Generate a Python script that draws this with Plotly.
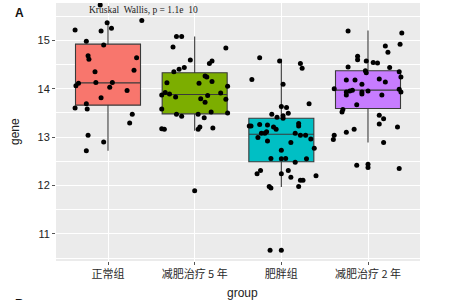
import plotly.graph_objects as go

categories = ["正常组", "减肥治疗 5 年", "肥胖组", "减肥治疗 2 年"]
colors = ["#F8766D", "#7CAE00", "#00BFC4", "#C77CFF"]

# box statistics: q1, median, q3, lower whisker, upper whisker
q1 = [13.66, 13.48, 12.49, 13.59]
median = [14.12, 13.88, 13.06, 13.97]
q3 = [14.92, 14.33, 13.39, 14.37]
lower_whisker = [12.72, 13.13, 11.97, 12.89]
upper_whisker = [15.36, 15.08, 14.62, 15.20]

# individual points (value, horizontal jitter in category units)
values_0 = [15.73, 15.36, 15.25, 15.21, 15.19, 15.41, 14.98, 14.90, 14.68, 14.61,
            14.64, 14.35, 14.38, 14.06, 14.11, 14.13, 14.13, 14.03, 13.96, 13.81,
            13.69, 13.60, 13.58, 13.47, 13.29, 13.04, 12.90, 12.72]
jitter_0 = [-0.09, -0.01, 0.04, -0.38, -0.08, 0.39, -0.25, -0.05, -0.23, -0.22,
            0.33, -0.15, 0.30, -0.37, -0.34, -0.14, 0.05, 0.02, 0.22, -0.08,
            -0.25, -0.38, -0.24, 0.28, 0.25, -0.23, -0.05, -0.25]

values_1 = [15.08, 15.08, 14.86, 14.84, 14.59, 14.52, 14.57, 14.44, 14.40, 14.35,
            14.26, 14.24, 14.11, 14.12, 14.15, 14.05, 13.92, 13.89, 13.83, 13.87,
            13.91, 13.86, 13.79, 13.72, 13.78, 13.58, 13.47, 13.43, 13.47, 13.52,
            13.50, 13.40, 13.21, 13.16, 13.19, 13.17, 13.16, 11.89]
jitter_1 = [-0.21, -0.15, -0.25, 0.36, -0.05, 0.17, 0.20, -0.12, -0.18, -0.24,
            0.12, 0.14, 0.05, -0.32, 0.20, 0.38, -0.34, -0.29, -0.22, -0.38,
            0.30, 0.15, 0.07, 0.12, 0.36, -0.38, -0.21, -0.15, 0.04, 0.19,
            0.38, 0.11, 0.06, 0.04, 0.21, -0.38, -0.35, 0.00]

values_2 = [14.64, 14.57, 14.52, 14.42, 14.19, 14.09, 13.69, 13.63, 13.61, 13.47,
            13.41, 13.44, 13.39, 13.49, 13.23, 13.23, 13.26, 13.25, 13.21, 13.16,
            13.28, 13.23, 13.11, 13.08, 13.08, 12.99, 13.08, 13.04, 13.04, 12.96,
            12.92, 12.89, 12.77, 12.73, 12.56, 12.55, 12.56, 12.55, 12.48, 12.31,
            12.24, 12.31, 12.24, 12.17, 12.11, 12.11, 12.20, 11.98, 11.95, 11.98,
            10.66, 10.66]
jitter_2 = [-0.25, -0.02, 0.22, 0.24, -0.34, 0.02, 0.32, 0.00, 0.06, -0.11,
            -0.05, 0.02, 0.02, 0.08, -0.37, -0.35, -0.25, -0.16, -0.09, -0.06,
            0.20, 0.20, -0.17, -0.19, -0.23, -0.27, 0.16, 0.22, 0.28, 0.34,
            -0.16, 0.11, 0.38, 0.00, -0.12, 0.00, 0.05, 0.29, 0.16, -0.24,
            -0.28, 0.08, 0.00, 0.11, 0.22, 0.25, 0.40, -0.14, -0.12, 0.20,
            -0.13, 0.00]

values_3 = [15.19, 15.15, 14.92, 14.88, 14.75, 14.67, 14.60, 14.57, 14.54, 14.53,
            14.45, 14.44, 14.37, 14.33, 14.35, 14.24, 14.18, 14.18, 14.20, 14.14,
            14.09, 14.00, 13.99, 13.93, 13.93, 13.87, 13.95, 13.97, 13.93, 13.89,
            13.95, 13.87, 13.67, 13.57, 13.52, 13.45, 13.38, 13.27, 13.21, 13.16,
            13.10, 13.04, 12.95, 12.89, 12.42, 12.44, 12.37, 12.35]
jitter_3 = [-0.23, 0.39, 0.37, 0.20, 0.23, -0.12, -0.12, -0.02, 0.06, 0.11,
            -0.23, 0.25, -0.03, -0.02, 0.36, 0.38, -0.25, -0.15, 0.13, 0.20,
            -0.07, -0.39, 0.36, 0.38, -0.25, -0.25, -0.21, -0.18, -0.07, -0.07,
            0.00, 0.16, -0.13, -0.29, -0.30, 0.13, 0.18, 0.13, 0.34, -0.16,
            -0.25, -0.39, -0.40, 0.18, -0.13, 0.00, 0.00, 0.36]

y_ticks = [11, 12, 13, 14, 15]
title_text = "Kruskal  Wallis, p = 1.1e  10"

all_values = [values_0, values_1, values_2, values_3]
all_jitter = [jitter_0, jitter_1, jitter_2, jitter_3]

fig = go.Figure()
for i in range(len(categories)):
    fig.add_trace(go.Box(
        x=[i], q1=[q1[i]], median=[median[i]], q3=[q3[i]],
        lowerfence=[lower_whisker[i]], upperfence=[upper_whisker[i]],
        width=0.75, whiskerwidth=0, fillcolor=colors[i],
        line=dict(color="#3a3a3a", width=1.1),
        boxpoints=False, showlegend=False, hoverinfo="skip"))
for i in range(len(categories)):
    fig.add_trace(go.Scatter(
        x=[i + j for j in all_jitter[i]], y=all_values[i], mode="markers",
        marker=dict(color="black", size=5, line=dict(width=0)),
        showlegend=False, hoverinfo="skip"))

fig.update_layout(
    width=449, height=300,
    margin=dict(l=56, r=29, t=3, b=39),
    paper_bgcolor="white", plot_bgcolor="#EBEBEB",
    xaxis=dict(range=[-0.6, 3.6], tickvals=list(range(len(categories))),
               ticktext=categories, showgrid=True, gridcolor="white", gridwidth=1.1,
               zeroline=False, ticks="outside", ticklen=3, tickcolor="#555",
               tickfont=dict(family="Noto Sans CJK SC", size=11, color="#2a2a2a")),
    yaxis=dict(range=[10.44, 15.77], tickvals=y_ticks, showgrid=True,
               gridcolor="white", gridwidth=1.1, zeroline=False,
               ticks="outside", ticklen=3, tickcolor="#555",
               tickfont=dict(family="Liberation Sans", size=11, color="#222"),
               minor=dict(showgrid=True, gridcolor="white", gridwidth=0.5,
                          tickvals=[10.5, 11.5, 12.5, 13.5, 14.5, 15.5])),
    annotations=[
        dict(text=title_text, xref="paper", yref="paper", x=(87 - 56) / 364,
             y=(261 - 10) / 258, xanchor="left", yanchor="middle", showarrow=False,
             font=dict(family="Liberation Serif", size=9.5, color="#222")),
        dict(text="<b>A</b>", xref="paper", yref="paper", x=(19 - 56) / 364,
             y=(261 - 13) / 258, xanchor="center", yanchor="middle", showarrow=False,
             font=dict(family="Liberation Sans", size=12, color="#111")),
        dict(text="<b>B</b>", xref="paper", yref="paper", x=(19 - 56) / 364,
             y=(261 - 295) / 258, xanchor="center", yanchor="top", showarrow=False,
             font=dict(family="Liberation Sans", size=12, color="#111")),
        dict(text="group", xref="paper", yref="paper", x=(243 - 56) / 364,
             y=(261 - 293) / 258, xanchor="center", yanchor="middle", showarrow=False,
             font=dict(family="Liberation Sans", size=12, color="#222")),
        dict(text="gene", xref="paper", yref="paper", x=(15 - 56) / 364,
             y=0.5, xanchor="center", yanchor="middle", textangle=-90, showarrow=False,
             font=dict(family="Liberation Sans", size=12, color="#222")),
    ],
)

fig.write_html("out.html", config={"displayModeBar": False},
               post_script="document.body.style.margin='0';")
